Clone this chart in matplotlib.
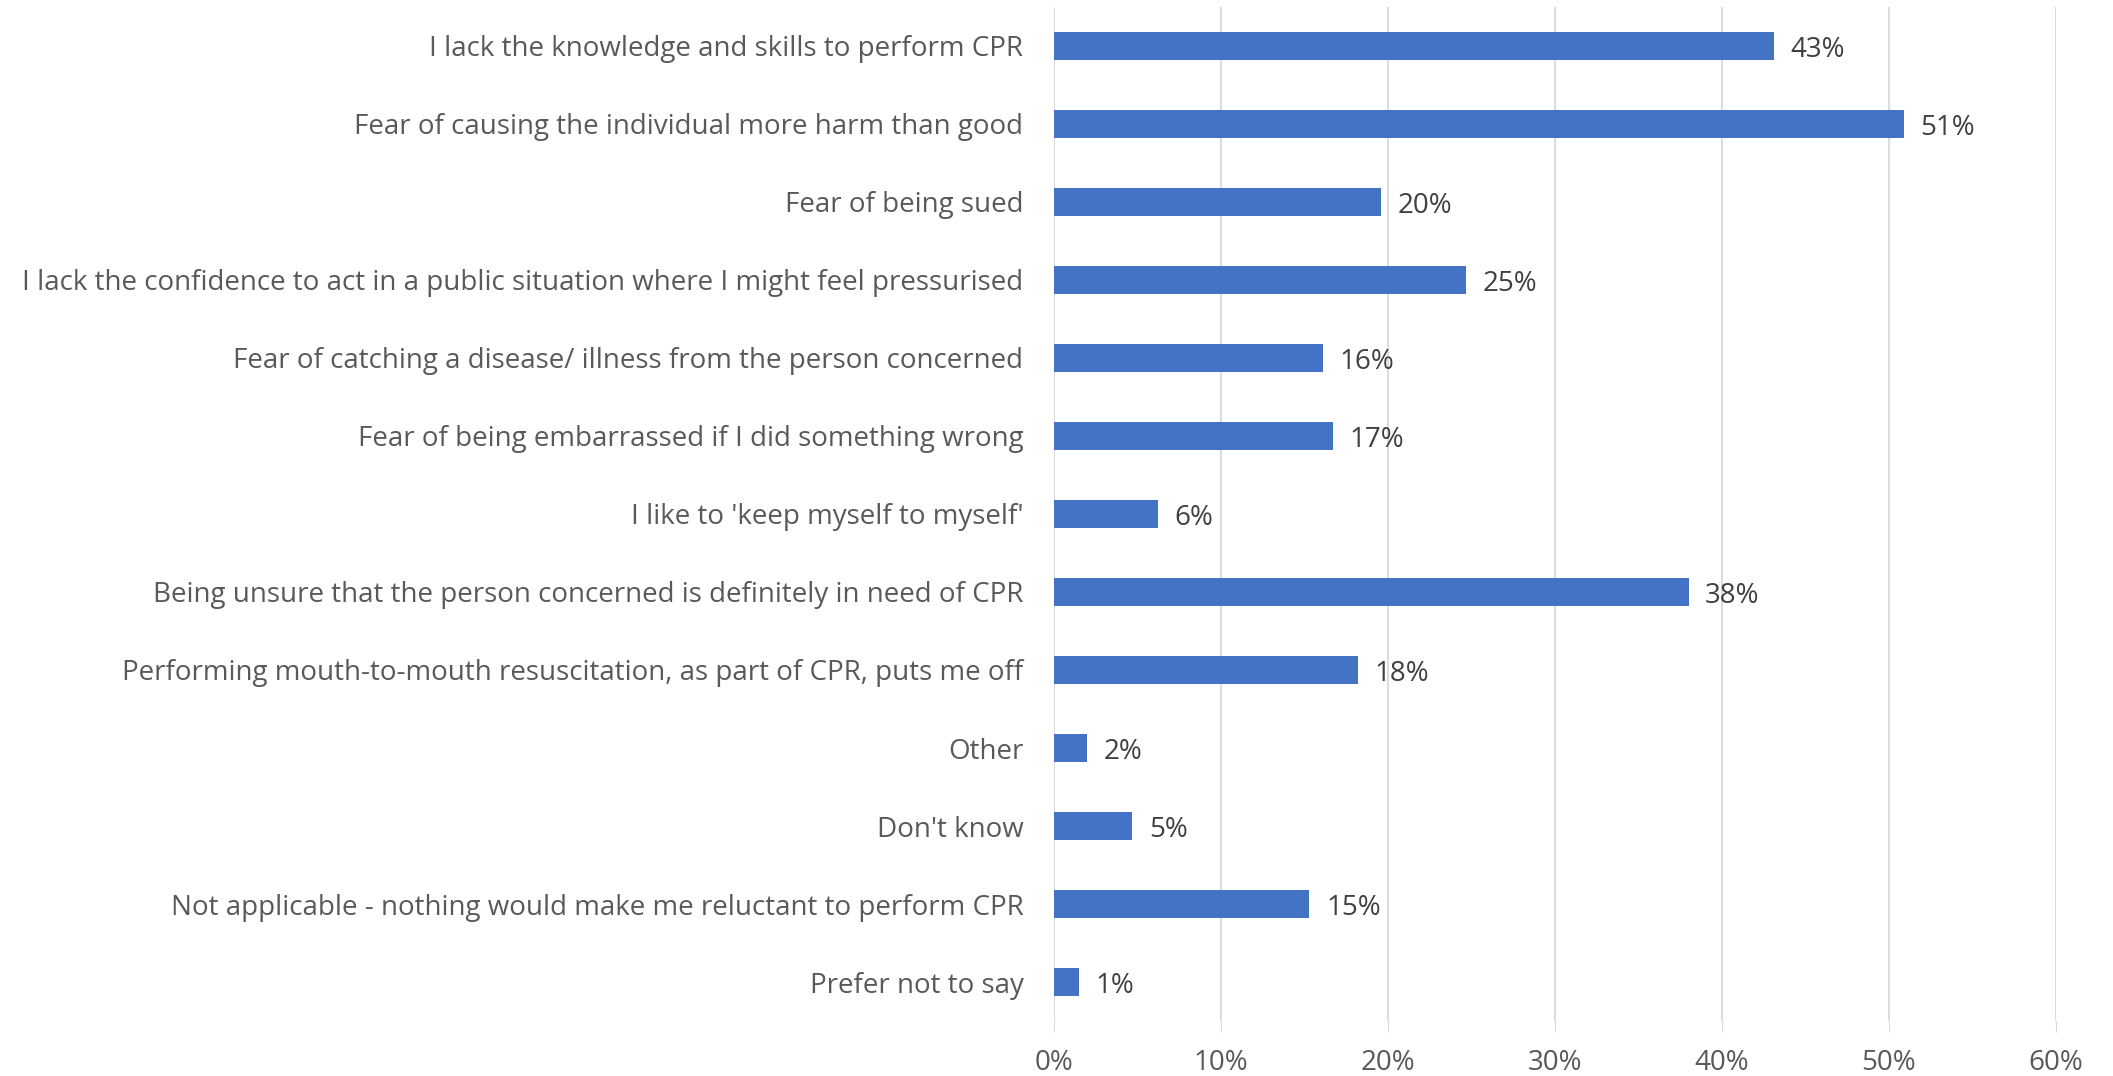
import matplotlib
matplotlib.use("Agg")
import matplotlib.pyplot as plt
from matplotlib.ticker import PercentFormatter

categories = [
    "I lack the knowledge and skills to perform CPR",
    "Fear of causing the individual more harm than good",
    "Fear of being sued",
    "I lack the confidence to act in a public situation where I might feel pressurised",
    "Fear of catching a disease/ illness from the person concerned",
    "Fear of being embarrassed if I did something wrong",
    "I like to 'keep myself to myself'",
    "Being unsure that the person concerned is definitely in need of CPR",
    "Performing mouth-to-mouth resuscitation, as part of CPR, puts me off",
    "Other",
    "Don't know",
    "Not applicable - nothing would make me reluctant to perform CPR",
    "Prefer not to say",
]
values = [43.1, 50.9, 19.6, 24.7, 16.1, 16.7, 6.2, 38.0, 18.2, 2.0, 4.7, 15.3, 1.5]
value_labels = ["43%", "51%", "20%", "25%", "16%", "17%", "6%", "38%", "18%", "2%", "5%", "15%", "1%"]
xticks = [0, 10, 20, 30, 40, 50, 60]

plt.rcParams['font.family'] = ['Open Sans', 'DejaVu Sans']

fig = plt.figure(figsize=(21.13, 10.76), dpi=100)
ax = fig.add_axes([0.4988, 0.051, 0.973 - 0.4988, 0.9938 - 0.051])

ypos = list(range(len(categories)))
ax.barh(ypos, values, height=0.355, color="#4472C4", zorder=3)
for y, v, lab in zip(ypos, values, value_labels):
    ax.annotate(lab, xy=(v, y), xytext=(12, -3), textcoords="offset points",
                va="center", ha="left", fontsize=20, color="#404040")

ax.set_ylim(len(categories) - 0.5, -0.5)
ax.set_xlim(0, 60)
ax.set_yticks(ypos)
ax.set_yticklabels(categories, fontsize=20, color="#595959")
ax.set_xticks(xticks)
ax.xaxis.set_major_formatter(PercentFormatter(decimals=0))
ax.tick_params(axis="x", labelsize=20, labelcolor="#595959", length=8, color="#D9D9D9", pad=12)
ax.tick_params(axis="y", length=0, pad=22)
ax.grid(axis="x", color="#D9D9D9", linewidth=1.3, zorder=0)
for s in ax.spines.values():
    s.set_visible(False)

fig.savefig("out.png", dpi=100, facecolor="white")
